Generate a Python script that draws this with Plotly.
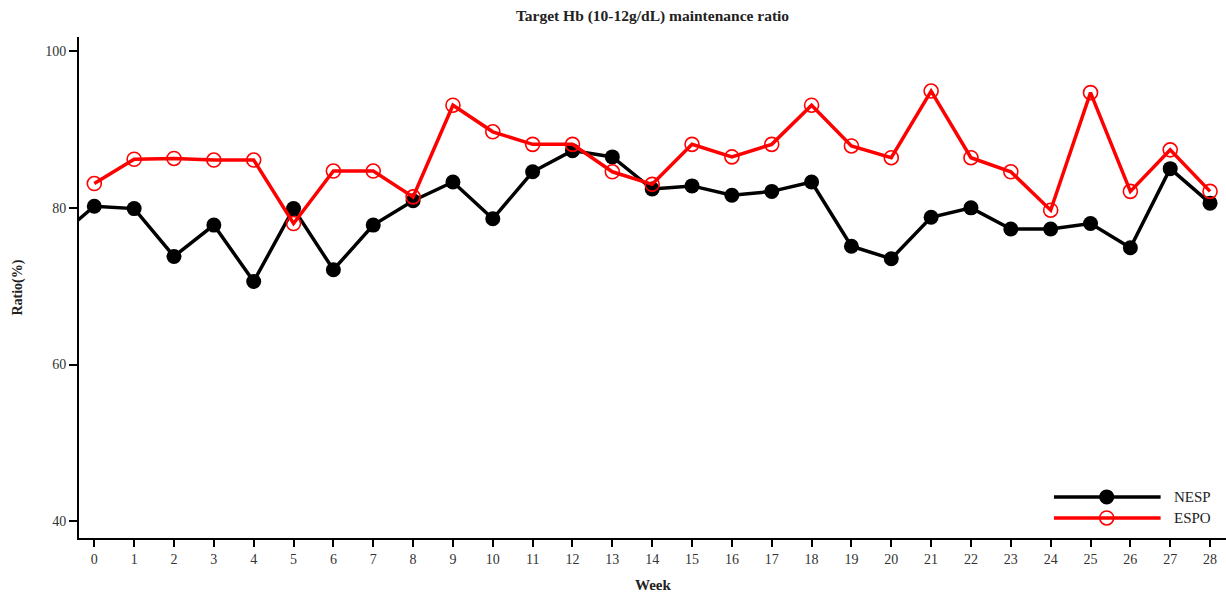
import plotly.graph_objects as go

weeks = list(range(0, 29))
nesp_weeks = [-1] + weeks
nesp = [75.9, 80.2, 79.9, 73.8, 77.8, 70.6, 79.9, 72.1, 77.8, 80.9, 83.3, 78.6, 84.6, 87.3, 86.5,
        82.4, 82.8, 81.6, 82.1, 83.3, 75.1, 73.5, 78.8, 80.0, 77.3, 77.3, 78.0, 74.9, 85.0, 80.6]
espo = [83.1, 86.2, 86.3, 86.1, 86.1, 78.0, 84.7, 84.7, 81.4, 93.1, 89.7, 88.1, 88.1, 84.6,
        83.0, 88.1, 86.5, 88.1, 93.1, 87.9, 86.4, 94.9, 86.4, 84.6, 79.7, 94.7, 82.1, 87.4, 82.1]
series_names = ["NESP", "ESPO"]
y_ticks = [40, 60, 80, 100]

FONT = "Liberation Serif"
TXT = "#222222"

fig = go.Figure()
fig.add_trace(go.Scatter(x=nesp_weeks, y=nesp, mode="lines+markers", name=series_names[0],
                         line=dict(color="black", width=3.5),
                         marker=dict(symbol="circle", size=15, color="black")))
fig.add_trace(go.Scatter(x=weeks, y=espo, mode="lines+markers", name=series_names[1],
                         line=dict(color="#ff0000", width=3.5),
                         marker=dict(symbol="circle-open", size=14, color="#ff0000",
                                     line=dict(width=1.6, color="#ff0000"))))

# manual legend
leg_x0, leg_x1, leg_xm, leg_tx = 0.850, 0.943, 0.896, 0.953
leg_rows = [(0.082, "black", True), (0.040, "#ff0000", False)]
shapes = []
annotations = []
for (ly, col, filled), nm in zip(leg_rows, series_names):
    shapes.append(dict(type="line", xref="paper", yref="paper", x0=leg_x0, x1=leg_x1, y0=ly, y1=ly,
                       line=dict(color=col, width=3.5)))
    shapes.append(dict(type="circle", xref="paper", yref="paper", xsizemode="pixel", ysizemode="pixel",
                       xanchor=leg_xm, yanchor=ly,
                       x0=-7.5 if filled else -7, x1=7.5 if filled else 7,
                       y0=-7.5 if filled else -7, y1=7.5 if filled else 7,
                       fillcolor=col if filled else "rgba(0,0,0,0)",
                       line=dict(color=col, width=0 if filled else 1.6)))
    annotations.append(dict(x=leg_tx, y=ly, xref="paper", yref="paper", text=nm, showarrow=False,
                            xanchor="left", yanchor="middle", font=dict(family=FONT, size=15, color=TXT)))

annotations.append(dict(x=-0.054, y=0.5, xref="paper", yref="paper", text="<b>Ratio(%)</b>",
                        textangle=-90, showarrow=False, xanchor="center", yanchor="middle",
                        font=dict(family=FONT, size=14, color=TXT)))
annotations.append(dict(x=0.5, y=-0.0944, xref="paper", yref="paper", text="<b>Week</b>",
                        showarrow=False, xanchor="center", yanchor="middle",
                        font=dict(family=FONT, size=15, color=TXT)))

fig.update_layout(
    width=1226, height=596,
    margin=dict(l=79, r=0, t=37, b=58),
    paper_bgcolor="white", plot_bgcolor="white",
    showlegend=False,
    title=dict(text="<b>Target Hb (10-12g/dL) maintenance ratio</b>", x=0.5, xref="paper",
               y=1 - 16 / 596, yref="container", xanchor="center", yanchor="middle",
               font=dict(family=FONT, size=15.5, color=TXT)),
    shapes=shapes,
    annotations=annotations,
    xaxis=dict(range=[-0.384, 28.4], tickvals=weeks, ticktext=[str(w) for w in weeks],
               showline=True, linecolor="black", linewidth=2, ticks="outside", ticklen=7,
               tickwidth=2, tickcolor="black", showgrid=False, zeroline=False,
               tickfont=dict(family=FONT, size=14, color="#333333")),
    yaxis=dict(range=[37.87, 101.8], tickvals=y_ticks,
               showline=True, linecolor="black", linewidth=2, ticks="outside", ticklen=8,
               tickwidth=2, tickcolor="black", showgrid=False, zeroline=False,
               tickfont=dict(family=FONT, size=14, color="#333333")),
)

fig.write_html("out.html", config={"displayModeBar": False},
               post_script="document.body.style.margin='0';document.body.style.overflow='hidden';")
